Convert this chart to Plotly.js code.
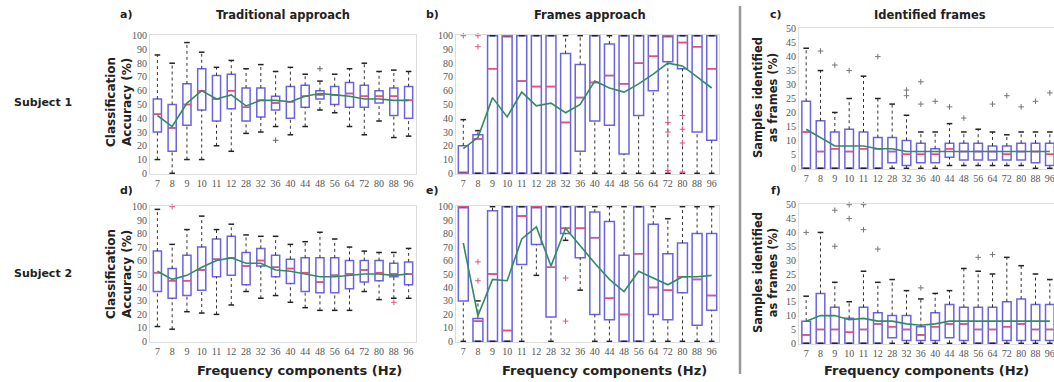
<!DOCTYPE html>
<html><head><meta charset="utf-8">
<script src="https://cdn.plot.ly/plotly-3.0.1.min.js"></script>
<style>html,body{margin:0;padding:0;overflow:hidden;background:#fff}#c{width:1060px;height:382px}</style>
</head><body><div id="c"></div>
<script>
const cats = ['7','8','9','10','11','12','28','32','36','40','44','48','56','64','72','80','88','96'];

// a) Subject 1, traditional approach
const aQ1  = [30,16,35,46,38,47,38,41,46,40,48,54,50,48,48,51,42,40];
const aMed = [43,33,50,60,54,60,48,53,51,52,56,57,57,58,56,56,56,53];
const aQ3  = [54,50,65,76,71,72,62,62,56,63,64,60,63,66,64,60,62,63];
const aLo  = [10,0,10,10,20,16,29,30,34,28,34,46,44,34,28,38,26,27];
const aHi  = [86,80,95,88,77,82,76,79,74,77,72,67,72,76,80,74,75,74];
const aMean= [42,34,51,60,54,57,49,53,53,52,56,58,57,56,54,54,53,53];
const aOutX= ['36','48'];
const aOutY= [24,76];

// b) Subject 1, frames approach
const bQ1  = [0,0,0,0,0,0,0,0,16,38,35,14,42,60,81,76,30,24];
const bMed = [0,25,76,100,67,63,63,37,55,66,71,65,80,85,100,95,92,76];
const bQ3  = [20,28,100,100,100,100,100,87,79,100,94,100,100,100,100,100,100,100];
const bLo  = [0,0,0,0,0,0,0,0,0,0,0,0,0,0,0,0,0,0];
const bHi  = [39,31,100,100,100,100,100,100,100,100,100,100,100,100,100,100,100,100];
const bMean= [18,26,55,41,59,49,51,44,50,67,62,59,65,72,80,78,70,62];
const bOutX= ['7','8','8','72','72','72','80','80','80','80'];
const bOutY= [100,100,92,37,30,2,42,32,22,1];

// c) Subject 1, identified frames
const cQ1  = [0,0,0,0,0,0,2,1,2,2,4,3,3,3,3,3,2,1];
const cMed = [13,6,7,6,7,7,6,5,5,5,7,6,6,6,5,6,6,5];
const cQ3  = [24,17,13,14,13,11,11,10,9,7,9,9,9,8,8,9,9,9];
const cLo  = [0,0,0,0,0,0,0,0,0,0,1,1,1,1,1,1,0,0];
const cHi  = [43,35,20,25,33,25,23,19,13,13,16,13,14,13,12,13,13,13];
const cMean= [14,11,8,8,8,7,7,6,6,6,6,6,6,6,6,6,6,6];
const cOutX= ['8','9','10','12','32','32','36','36','40','44','48','64','72','80','88','96'];
const cOutY= [42,37,35,40,28,26,31,23,24,22,18,23,26,22,24,27];

// d) Subject 2, traditional approach
const dQ1  = [37,32,34,38,48,49,42,56,48,43,37,36,36,39,44,45,48,42];
const dMed = [51,45,45,53,61,62,56,60,55,54,51,44,49,50,53,51,50,50];
const dQ3  = [67,54,64,70,76,78,66,69,64,61,62,62,62,60,60,60,58,59];
const dLo  = [11,9,22,21,20,27,37,32,34,29,25,23,23,23,37,31,32,32];
const dHi  = [98,72,83,93,83,87,79,78,78,72,74,81,76,70,67,66,66,69];
const dMean= [52,46,49,55,60,62,58,58,53,52,50,48,48,49,50,50,49,50];
const dOutX= ['8','88'];
const dOutY= [100,29];

// e) Subject 2, frames approach
const eQ1  = [30,0,0,0,57,72,18,80,62,20,16,0,0,20,16,36,12,23];
const eMed = [100,15,50,8,93,100,55,84,84,77,32,20,65,40,38,48,46,34];
const eQ3  = [100,17,97,100,100,100,100,100,100,96,89,64,100,87,65,73,80,80];
const eLo  = [0,0,0,0,0,49,0,75,38,0,0,0,0,0,0,0,0,0];
const eHi  = [100,30,100,100,100,100,100,100,100,100,100,100,100,100,91,100,100,100];
const eMean= [73,19,46,45,76,85,56,84,71,58,46,37,52,47,42,48,48,49];
const eOutX= ['8','8','32','32'];
const eOutY= [59,45,47,15];

// f) Subject 2, identified frames
const fQ1  = [0,0,0,0,0,0,2,1,1,1,2,1,0,0,1,1,1,1];
const fMed = [3,5,5,4,5,7,6,5,3,6,7,7,5,5,6,7,5,5];
const fQ3  = [8,18,13,9,13,11,10,10,6,11,14,13,13,13,15,16,14,14];
const fLo  = [0,0,0,0,0,0,0,0,0,0,0,0,0,0,0,0,0,0];
const fHi  = [17,40,22,15,26,22,23,19,16,18,19,27,26,25,31,28,25,23];
const fMean= [8,10,10,8.5,9,8,8,7,6.5,7,8,8,8,8,8,8,8,8];
const fOutX= ['7','9','9','10','10','11','11','12','36','56','64'];
const fOutY= [40,48,35,50,45,50,41,34,20,31,32];

const W = 1060, H = 382;
const BOX = 'rgb(105,100,225)', MEDC = 'rgb(230,80,130)', MEANC = 'rgb(50,140,95)';
const traces = [];
const idx = cats.map((c,i)=>i);

function panel(n, Q1, MED, Q3, LO, HI, MEAN, OX, OY, bw, outColor){
  const xa = 'x'+(n===1?'':n), ya = 'y'+(n===1?'':n);
  traces.push({type:'box', x: idx, q1: Q1, median: MED, q3: Q3, lowerfence: Q1, upperfence: Q3,
    width: bw, whiskerwidth: 0, boxpoints: false, fillcolor:'rgba(255,255,255,0)',
    line:{color:BOX, width:1.5}, xaxis: xa, yaxis: ya, hoverinfo:'skip', showlegend:false});
  const wx=[], wy=[];
  idx.forEach(i=>{ wx.push(i,i,null,i,i,null); wy.push(LO[i],Q1[i],null,Q3[i],HI[i],null); });
  traces.push({type:'scatter', mode:'lines', x:wx, y:wy, line:{color:'#333', width:1, dash:'dot'},
    xaxis:xa, yaxis:ya, hoverinfo:'skip', showlegend:false, cliponaxis:false});
  traces.push({type:'scatter', mode:'markers', x: idx.concat(idx), y: LO.concat(HI),
    marker:{symbol:'line-ew-open', size:4, color:'#222', line:{color:'#222', width:1.5}},
    xaxis:xa, yaxis:ya, hoverinfo:'skip', showlegend:false, cliponaxis:false});
  const mx=[], my=[];
  idx.forEach(i=>{ mx.push(i-bw/2, i+bw/2, null); my.push(MED[i], MED[i], null); });
  traces.push({type:'scatter', mode:'lines', x:mx, y:my, line:{color:MEDC, width:1.5},
    xaxis:xa, yaxis:ya, hoverinfo:'skip', showlegend:false});
  traces.push({type:'scatter', mode:'lines', x: idx, y: MEAN, line:{color:MEANC, width:1.6},
    xaxis:xa, yaxis:ya, hoverinfo:'skip', showlegend:false});
  traces.push({type:'scatter', mode:'markers', x: OX.map(c=>cats.indexOf(c)), y: OY,
    marker:{symbol:'cross-thin-open', size:4, color:outColor, line:{color:outColor, width:1}},
    xaxis:xa, yaxis:ya, hoverinfo:'skip', showlegend:false, cliponaxis:false});
}
panel(1, aQ1,aMed,aQ3,aLo,aHi,aMean,aOutX,aOutY,0.55,'#666');
panel(2, bQ1,bMed,bQ3,bLo,bHi,bMean,bOutX,bOutY,0.68,MEDC);
panel(3, cQ1,cMed,cQ3,cLo,cHi,cMean,cOutX,cOutY,0.6,'#777');
panel(4, dQ1,dMed,dQ3,dLo,dHi,dMean,dOutX,dOutY,0.55,MEDC);
panel(5, eQ1,eMed,eQ3,eLo,eHi,eMean,eOutX,eOutY,0.68,MEDC);
panel(6, fQ1,fMed,fQ3,fLo,fHi,fMean,fOutX,fOutY,0.6,'#777');

const px = v => v/W, py = v => 1 - v/H;
const tickFont = {family:'"Liberation Serif", "Times New Roman", serif', size:10, color:'#555'};
function xax(l, r, anchor){
  return {domain:[px(l),px(r)], range:[-0.5,17.5], tickvals: idx, ticktext: cats, tickfont: tickFont,
    showgrid:false, zeroline:false, showline:true, linecolor:'#ddd', linewidth:1, mirror:true,
    ticks:'', tickangle:0, anchor: anchor, fixedrange:true};
}
function yax(t, b, max, dt, anchor){
  return {domain:[py(b),py(t)], range:[-max*0.005, max*1.005], dtick: dt, tick0:0, tickfont: tickFont,
    showgrid:false, zeroline:false, showline:true, linecolor:'#ddd', linewidth:1, mirror:true,
    ticks:'', anchor: anchor, fixedrange:true};
}
const layout = {
  width: W, height: H, margin:{l:0,r:0,t:0,b:0}, paper_bgcolor:'#fff', plot_bgcolor:'#fff',
  showlegend:false,
  xaxis:  xax(150,416,'y'),  yaxis:  yax(35,174,100,10,'x'),
  xaxis2: xax(456,719,'y2'), yaxis2: yax(35,174,100,10,'x2'),
  xaxis3: xax(799,1057,'y3'),yaxis3: yax(28,169,50,5,'x3'),
  xaxis4: xax(150,416,'y4'), yaxis4: yax(206,342,100,10,'x4'),
  xaxis5: xax(456,719,'y5'), yaxis5: yax(206,342,100,10,'x5'),
  xaxis6: xax(799,1057,'y6'),yaxis6: yax(204,344,50,5,'x6'),
  annotations: [],
  shapes: [{type:'line', xref:'paper', yref:'paper', x0:px(740), x1:px(740), y0:py(6), y1:py(374),
    line:{color:'#999', width:2.5}}]
};
const bold = (s)=>({family:'DejaVu Sans, Verdana, sans-serif', size:s, color:'#222', weight:'bold'});
function ann(text, x, y, size, extra){
  layout.annotations.push(Object.assign({text:text, xref:'paper', yref:'paper', x:px(x), y:py(y),
    xanchor:'center', yanchor:'middle', showarrow:false, font:bold(size)}, extra||{}));
}
ann('a)',126,15,11); ann('Traditional approach',283,15,11.5);
ann('b)',432,15,11); ann('Frames approach',590,15,11.5);
ann('c)',776,15,11); ann('Identified frames',930,15,11.5);
ann('d)',126,190,11); ann('e)',432,190,11); ann('f)',776,190,11);
ann('Subject 1',43,103,11); ann('Subject 2',43,273,11);
ann('Classification<br>Accuracy (%)',119,102,12,{textangle:-90});
ann('Classification<br>Accuracy (%)',119,274,12,{textangle:-90});
ann('Samples identified<br>as frames (%)',765,98,11.5,{textangle:-90});
ann('Samples identified<br>as frames (%)',765,273,11.5,{textangle:-90});
ann('Frequency components (Hz)',299,370,13);
ann('Frequency components (Hz)',604,370,13);
ann('Frequency components (Hz)',926,370,13);

Plotly.newPlot('c', traces, layout, {staticPlot:true, displayModeBar:false});
</script></body></html>
